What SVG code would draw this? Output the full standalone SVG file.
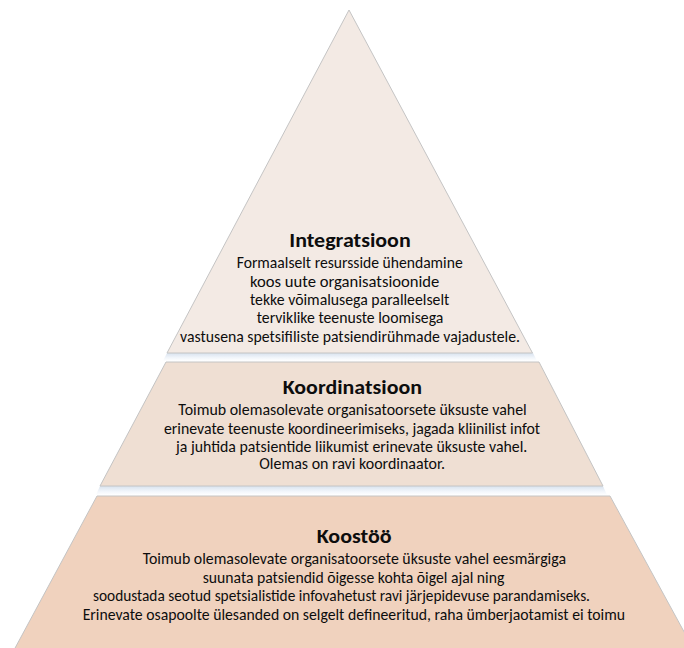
<svg xmlns="http://www.w3.org/2000/svg" width="684" height="648" viewBox="0 0 684 648">
  <defs>
    <!-- soft bluish shade under each tier -->
    <linearGradient id="shade" x1="0" y1="0" x2="0" y2="1">
      <stop offset="0" stop-color="#d8e2ee"/>
      <stop offset="0.6" stop-color="#f2f6fb"/>
      <stop offset="1" stop-color="#ffffff"/>
    </linearGradient>
    <style>
      .tier { stroke: #c4c4c4; stroke-width: 1; stroke-linejoin: round; }
      .t1 { fill: #f3eae4; }
      .t2 { fill: #efdfd3; }
      .t3 { fill: #f0d2be; }
      .shade { fill: url(#shade); }
      text { font-family: Carlito, Lato, "Liberation Sans", sans-serif; fill: #0d0d0d; }
      .title { font-size: 20px; font-weight: bold; }
      .body { font-size: 16px; }
    </style>
  </defs>

  <rect width="684" height="648" fill="#ffffff"/>

  <!-- top tier -->
  <g id="integratsioon">
    <polygon class="shade" points="167,353 533,353 537,361 163,361"/>
    <polygon class="tier t1" points="349,10 532.5,353 167,353"/>
    <text class="title" x="289.3" y="246.7" textLength="121.4" lengthAdjust="spacingAndGlyphs">Integratsioon</text>
    <text class="body" x="236.7" y="268.3" textLength="226" lengthAdjust="spacingAndGlyphs">Formaalselt resursside ühendamine</text>
    <text class="body" x="250" y="286.7" textLength="189.3" lengthAdjust="spacingAndGlyphs">koos uute organisatsioonide</text>
    <text class="body" x="250" y="305" textLength="199.3" lengthAdjust="spacingAndGlyphs">tekke võimalusega paralleelselt</text>
    <text class="body" x="256.7" y="323.3" textLength="186.6" lengthAdjust="spacingAndGlyphs">terviklike teenuste loomisega</text>
    <text class="body" x="180" y="341.7" textLength="340" lengthAdjust="spacingAndGlyphs">vastusena spetsifiliste patsiendirühmade vajadustele.</text>
  </g>

  <!-- middle tier -->
  <g id="koordinatsioon">
    <polygon class="shade" points="100,486 603,486 607,495 96,495"/>
    <polygon class="tier t2" points="166,362 539,362 603,486 100,486"/>
    <text class="title" x="282.7" y="394" textLength="139.3" lengthAdjust="spacingAndGlyphs">Koordinatsioon</text>
    <text class="body" x="178.3" y="415" textLength="348.4" lengthAdjust="spacingAndGlyphs">Toimub olemasolevate organisatoorsete üksuste vahel</text>
    <text class="body" x="164" y="434" textLength="376" lengthAdjust="spacingAndGlyphs">erinevate teenuste koordineerimiseks, jagada kliinilist infot</text>
    <text class="body" x="176" y="451.7" textLength="351.3" lengthAdjust="spacingAndGlyphs">ja juhtida patsientide liikumist erinevate üksuste vahel.</text>
    <text class="body" x="259.3" y="469.3" textLength="185.7" lengthAdjust="spacingAndGlyphs">Olemas on ravi koordinaator.</text>
  </g>

  <!-- bottom tier -->
  <g id="koostoo">
    <polygon class="tier t3" points="97,496 610,496 694,650 14,650"/>
    <text class="title" x="316.7" y="542.7" textLength="75" lengthAdjust="spacingAndGlyphs">Koostöö</text>
    <text class="body" x="142.7" y="564" textLength="423.3" lengthAdjust="spacingAndGlyphs">Toimub olemasolevate organisatoorsete üksuste vahel eesmärgiga</text>
    <text class="body" x="202.7" y="582.5" textLength="301.6" lengthAdjust="spacingAndGlyphs">suunata patsiendid õigesse kohta õigel ajal ning</text>
    <text class="body" x="93" y="601" textLength="497" lengthAdjust="spacingAndGlyphs">soodustada seotud spetsialistide infovahetust ravi järjepidevuse parandamiseks.</text>
    <text class="body" x="82.7" y="620" textLength="542.3" lengthAdjust="spacingAndGlyphs">Erinevate osapoolte ülesanded on selgelt defineeritud, raha ümberjaotamist ei toimu</text>
  </g>
</svg>
